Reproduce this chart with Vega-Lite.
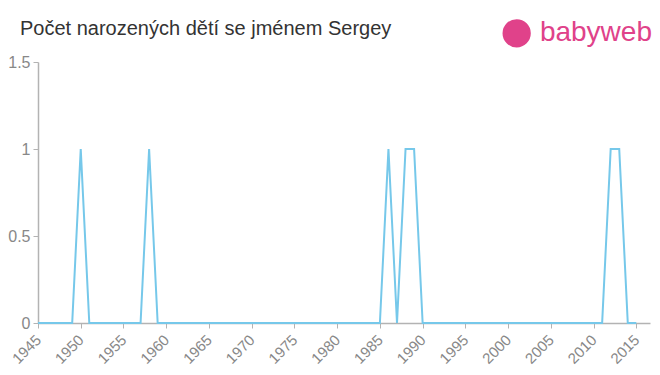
{
  "$schema": "https://vega.github.io/schema/vega-lite/v6.json",
  "width": 612,
  "height": 261,
  "autosize": {"type": "none"},
  "padding": {"left": 38, "top": 62, "right": 10, "bottom": 52},
  "background": "white",
  "title": {
    "text": "Počet narozených dětí se jménem Sergey",
    "anchor": "start",
    "frame": "group",
    "dx": -18,
    "dy": 20,
    "offset": 0,
    "fontSize": 20,
    "fontWeight": "normal",
    "font": "Liberation Sans",
    "color": "#333333"
  },
  "config": {
    "view": {"stroke": null}
  },
  "layer": [
    {
      "data": {
        "values": [
          {"year": 1945, "count": 0}, {"year": 1946, "count": 0}, {"year": 1947, "count": 0}, {"year": 1948, "count": 0},
          {"year": 1949, "count": 0}, {"year": 1950, "count": 1}, {"year": 1951, "count": 0}, {"year": 1952, "count": 0},
          {"year": 1953, "count": 0}, {"year": 1954, "count": 0}, {"year": 1955, "count": 0}, {"year": 1956, "count": 0},
          {"year": 1957, "count": 0}, {"year": 1958, "count": 1}, {"year": 1959, "count": 0}, {"year": 1960, "count": 0},
          {"year": 1961, "count": 0}, {"year": 1962, "count": 0}, {"year": 1963, "count": 0}, {"year": 1964, "count": 0},
          {"year": 1965, "count": 0}, {"year": 1966, "count": 0}, {"year": 1967, "count": 0}, {"year": 1968, "count": 0},
          {"year": 1969, "count": 0}, {"year": 1970, "count": 0}, {"year": 1971, "count": 0}, {"year": 1972, "count": 0},
          {"year": 1973, "count": 0}, {"year": 1974, "count": 0}, {"year": 1975, "count": 0}, {"year": 1976, "count": 0},
          {"year": 1977, "count": 0}, {"year": 1978, "count": 0}, {"year": 1979, "count": 0}, {"year": 1980, "count": 0},
          {"year": 1981, "count": 0}, {"year": 1982, "count": 0}, {"year": 1983, "count": 0}, {"year": 1984, "count": 0},
          {"year": 1985, "count": 0}, {"year": 1986, "count": 1}, {"year": 1987, "count": 0}, {"year": 1988, "count": 1},
          {"year": 1989, "count": 1}, {"year": 1990, "count": 0}, {"year": 1991, "count": 0}, {"year": 1992, "count": 0},
          {"year": 1993, "count": 0}, {"year": 1994, "count": 0}, {"year": 1995, "count": 0}, {"year": 1996, "count": 0},
          {"year": 1997, "count": 0}, {"year": 1998, "count": 0}, {"year": 1999, "count": 0}, {"year": 2000, "count": 0},
          {"year": 2001, "count": 0}, {"year": 2002, "count": 0}, {"year": 2003, "count": 0}, {"year": 2004, "count": 0},
          {"year": 2005, "count": 0}, {"year": 2006, "count": 0}, {"year": 2007, "count": 0}, {"year": 2008, "count": 0},
          {"year": 2009, "count": 0}, {"year": 2010, "count": 0}, {"year": 2011, "count": 0}, {"year": 2012, "count": 1},
          {"year": 2013, "count": 1}, {"year": 2014, "count": 0}, {"year": 2015, "count": 0}
        ]
      },
      "mark": {"type": "line", "color": "#76c8ea", "strokeWidth": 2, "clip": false},
      "encoding": {
        "x": {
          "field": "year",
          "type": "quantitative",
          "title": null,
          "scale": {"domain": [1945, 2016.6], "nice": false, "zero": false},
          "axis": {"values": [1945,1950,1955,1960,1965,1970,1975,1980,1985,1990,1995,2000,2005,2010,2015], "format": "d", "labelAngle": -45, "labelAlign": "right", "labelBaseline": "middle", "tickSize": 5, "labelPadding": 9, "grid": false, "labelFont": "Liberation Sans", "labelFontSize": 15, "labelColor": "#888888", "domainColor": "#b3b3b3", "tickColor": "#b3b3b3", "domainWidth": 1.5}
        },
        "y": {
          "field": "count",
          "type": "quantitative",
          "title": null,
          "scale": {"domain": [0, 1.5], "nice": false},
          "axis": {"values": [0, 0.5, 1, 1.5], "format": ".1~f", "tickSize": 5, "labelPadding": 3, "grid": false, "labelFont": "Liberation Sans", "labelFontSize": 16, "labelColor": "#888888", "domainColor": "#b3b3b3", "tickColor": "#b3b3b3", "domainWidth": 1.5}
        }
      }
    },
    {
      "data": {"values": [{"label": "babyweb", "x": 2016.6, "y": 1.665}]},
      "mark": {"type": "text", "color": "#e0428a", "fontSize": 28, "font": "Liberation Sans", "align": "right", "baseline": "middle", "clip": false, "dx": 2},
      "encoding": {
        "x": {"field": "x", "type": "quantitative"},
        "y": {"field": "y", "type": "quantitative"},
        "text": {"field": "label"}
      }
    },
    {
      "data": {"values": [{"x": 2001.0, "y": 1.665}]},
      "mark": {"type": "point", "shape": "circle", "filled": true, "color": "#e0428a", "size": 800, "opacity": 1, "clip": false},
      "encoding": {
        "x": {"field": "x", "type": "quantitative"},
        "y": {"field": "y", "type": "quantitative"}
      }
    }
  ]
}
